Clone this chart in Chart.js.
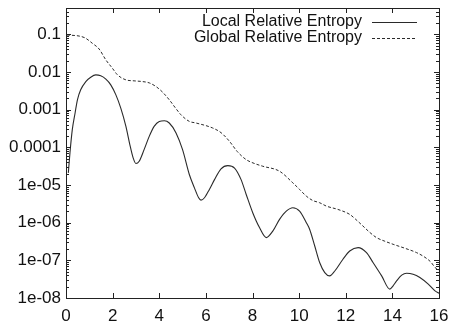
<!DOCTYPE html>
<html>
<head>
<meta charset="utf-8">
<script src="https://cdn.jsdelivr.net/npm/chart.js@4.4.1/dist/chart.umd.min.js"></script>
<style>
  html, body { margin: 0; padding: 0; background: #fff; }
  #wrap { width: 449px; height: 323px; }
</style>
</head>
<body>
<div id="wrap"><canvas id="myChart" width="449" height="323"></canvas></div>
<script>
var seriesNames = ["Local Relative Entropy", "Global Relative Entropy"];

var localX = [0.10, 0.17, 0.27, 0.39, 0.49, 0.63, 0.85, 1.06, 1.28, 1.49, 1.71, 1.92, 2.14, 2.35, 2.57, 2.74, 2.88, 3.00,
  3.14, 3.35, 3.57, 3.78, 4.00, 4.22, 4.43, 4.72, 5.00, 5.29, 5.51, 5.69, 5.79, 5.94, 6.15, 6.37, 6.65, 6.94,
  7.23, 7.51, 7.73, 8.01, 8.30, 8.59, 8.87, 9.16, 9.45, 9.73, 10.02, 10.31, 10.45, 10.67, 10.88, 11.10, 11.31,
  11.53, 11.88, 12.17, 12.53, 12.89, 13.17, 13.54, 13.89, 14.03, 14.18, 14.40, 14.61, 14.89, 15.18, 15.54, 15.83, 16.0];
var localY = [2.10e-5, 7.13e-5, 2.94e-4, 8.17e-4, 1.83e-3, 3.36e-3, 5.57e-3, 7.28e-3, 8.38e-3, 7.9e-3, 6.46e-3, 4.56e-3,
  2.47e-3, 1.10e-3, 3.6e-4, 1.17e-4, 5.24e-5, 3.71e-5, 4.27e-5, 8.67e-5, 1.95e-4, 3.6e-4, 4.88e-4, 5.08e-4, 4.42e-4,
  2.41e-4, 8.67e-5, 1.90e-5, 8.4e-6, 4.59e-6, 3.96e-6, 4.59e-6, 7.62e-6, 1.39e-5, 2.69e-5, 3.27e-5, 2.82e-5, 1.39e-5,
  5.61e-6, 1.84e-6, 7.4e-7, 4.01e-7, 5.98e-7, 1.22e-6, 2.02e-6, 2.49e-6, 2.02e-6, 9.98e-7, 6.7e-7, 2.40e-7, 8.75e-8,
  4.73e-8, 3.86e-8, 5.21e-8, 1.07e-7, 1.77e-7, 2.18e-7, 1.60e-7, 8.75e-8, 3.86e-8, 1.72e-8, 2.10e-8, 2.84e-8, 4.05e-8,
  4.55e-8, 4.29e-8, 3.50e-8, 2.33e-8, 1.54e-8, 1.34e-8];

var globalX = [0.04, 0.56, 0.82, 1.13, 1.42, 1.71, 1.98, 2.21, 2.57, 2.92, 3.28, 3.57, 3.86, 4.13, 4.43, 4.69, 4.93,
  5.29, 5.58, 6.29, 6.65, 7.01, 7.35, 7.73, 8.09, 8.44, 9.16, 9.73, 10.02, 10.31, 10.58, 10.88, 11.17, 11.66,
  12.17, 12.43, 12.74, 13.03, 13.32, 13.68, 14.03, 14.54, 15.04, 15.40, 15.66, 15.83, 16.0];
var globalY = [0.0958, 0.0901, 0.0803, 0.0578, 0.0408, 0.0209, 0.01283, 8.38e-3, 6.18e-3, 5.82e-3, 5.57e-3, 5.14e-3,
  4.11e-3, 2.97e-3, 1.83e-3, 1.12e-3, 7.33e-4, 4.88e-4, 4.42e-4, 3.26e-4, 2.45e-4, 1.45e-4, 7.69e-5, 4.71e-5, 3.71e-5,
  3.15e-5, 2.32e-5, 1.14e-5, 7.62e-6, 5.06e-6, 3.89e-6, 3.38e-6, 2.75e-6, 2.25e-6, 1.66e-6, 1.22e-6, 8.11e-7, 5.52e-7,
  4.01e-7, 3.21e-7, 2.67e-7, 2.09e-7, 1.60e-7, 1.20e-7, 8.87e-8, 6.44e-8, 5.46e-8];

var xTicks = [0, 2, 4, 6, 8, 10, 12, 14, 16];
var yTickValues = [1e-8, 1e-7, 1e-6, 1e-5, 1e-4, 1e-3, 1e-2, 1e-1];
var yTickLabels = ["1e-08", "1e-07", "1e-06", "1e-05", "0.0001", "0.001", "0.01", "0.1"];

function pts(xs, ys) {
  return xs.map(function (x, i) { return { x: x, y: ys[i] }; });
}

// gnuplot style frame with inward ticks on all four sides
var framePlugin = {
  id: "frame",
  afterDatasetsDraw: function (chart) {
    var ctx = chart.ctx, a = chart.chartArea;
    var xs = chart.scales.x, ys = chart.scales.y;
    ctx.save();
    ctx.strokeStyle = "#222";
    ctx.lineWidth = 1;
    ctx.strokeRect(a.left + 0.5, a.top + 0.5, a.right - a.left, a.bottom - a.top);
    ctx.beginPath();
    xTicks.forEach(function (t) {
      var p = Math.round(xs.getPixelForValue(t)) + 0.5;
      ctx.moveTo(p, a.bottom); ctx.lineTo(p, a.bottom - 5);
      ctx.moveTo(p, a.top); ctx.lineTo(p, a.top + 5);
    });
    for (var e = -8; e <= -1; e++) {
      for (var m = 1; m <= 9; m++) {
        var v = m * Math.pow(10, e);
        if (v > ys.max) continue;
        var p = Math.round(ys.getPixelForValue(v)) + 0.5;
        var len = m === 1 ? 5 : 3;
        ctx.moveTo(a.left, p); ctx.lineTo(a.left + len, p);
        ctx.moveTo(a.right, p); ctx.lineTo(a.right - len, p);
      }
    }
    ctx.stroke();

    // key in the top right corner
    ctx.font = "16px 'Liberation Sans', Arial, sans-serif";
    ctx.fillStyle = "#111";
    ctx.textAlign = "right";
    ctx.textBaseline = "middle";
    chart.data.datasets.forEach(function (ds, i) {
      var y = a.top + 14 + i * 16;
      ctx.fillText(ds.label, a.right - 77, y);
      ctx.beginPath();
      ctx.setLineDash(ds.borderDash || []);
      ctx.strokeStyle = ds.borderColor;
      ctx.lineWidth = ds.borderWidth;
      ctx.moveTo(a.right - 67, y + 0.5);
      ctx.lineTo(a.right - 22, y + 0.5);
      ctx.stroke();
    });
    ctx.restore();
  }
};

new Chart("myChart", {
  type: "line",
  data: {
    datasets: [{
      label: seriesNames[0],
      data: pts(localX, localY),
      borderColor: "#2a2a2a",
      borderWidth: 1.1,
      pointRadius: 0,
      cubicInterpolationMode: "monotone",
      fill: false
    }, {
      label: seriesNames[1],
      data: pts(globalX, globalY),
      borderColor: "#2a2a2a",
      borderWidth: 1,
      borderDash: [3, 2],
      pointRadius: 0,
      cubicInterpolationMode: "monotone",
      fill: false
    }]
  },
  plugins: [framePlugin],
  options: {
    responsive: false,
    animation: false,
    layout: { padding: { top: 8, right: 10, left: 0, bottom: 0 } },
    plugins: { legend: { display: false }, tooltip: { enabled: false } },
    scales: {
      x: {
        type: "linear",
        min: 0,
        max: 16,
        grid: { display: false, drawTicks: false },
        border: { display: false },
        afterBuildTicks: function (s) { s.ticks = xTicks.map(function (v) { return { value: v }; }); },
        afterFit: function (s) { s.height = 25; s.paddingLeft = 0; s.paddingRight = 0; },
        ticks: {
          padding: 8,
          maxRotation: 0,
          autoSkip: false,
          color: "#111",
          font: { family: "'Liberation Sans', Arial, sans-serif", size: 17 }
        }
      },
      y: {
        type: "logarithmic",
        min: 1e-8,
        max: 0.5,
        grid: { display: false, drawTicks: false },
        border: { display: false },
        afterBuildTicks: function (s) { s.ticks = yTickValues.map(function (v) { return { value: v }; }); },
        afterFit: function (s) { s.width = 66; s.paddingTop = 0; s.paddingBottom = 0; },
        ticks: {
          padding: 5,
          autoSkip: false,
          color: "#111",
          font: { family: "'Liberation Sans', Arial, sans-serif", size: 17 },
          callback: function (v, i) { return yTickLabels[i]; }
        }
      }
    }
  }
});
</script>
</body>
</html>
